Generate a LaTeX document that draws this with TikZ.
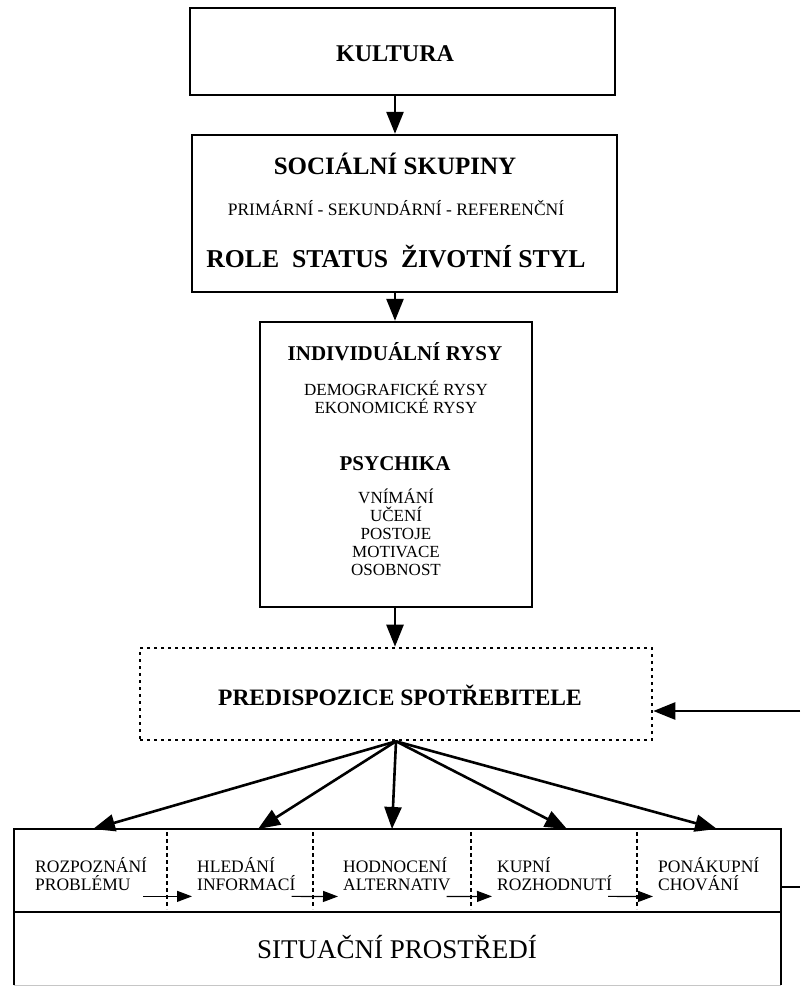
\documentclass[tikz,border=0pt]{standalone}
\usepackage{fontspec}
\setmainfont{Liberation Serif}
\usetikzlibrary{arrows.meta}

\tikzset{
  frame/.style={draw, line width=2.4pt, inner sep=0pt},
  dotframe/.style={draw, line width=2.6pt, dash pattern=on 2.6pt off 4.4pt, inner sep=0pt},
  arr/.style={line width=2.6pt, -{Triangle[length=22pt,width=17pt]}},
  flow/.style={line width=1.2pt, -{Triangle[length=15pt,width=11pt]}},
  divider/.style={line width=1.2pt, dash pattern=on 4pt off 3pt},
  head/.style={font=\bfseries\fontsize{25}{25}\selectfont, anchor=base},
  sub/.style={font=\bfseries\fontsize{21}{21}\selectfont, anchor=base},
  item/.style={font=\fontsize{17}{17}\selectfont, anchor=base},
  stepbox/.style={font=\fontsize{17.5}{18}\selectfont, align=left, anchor=base west, inner sep=0pt},
}

\begin{document}
\begin{tikzpicture}[x=1pt, y=-1pt]
	\useasboundingbox (0,0) rectangle (800,987);
	\coordinate (axis) at (395,0);

	\node[frame, minimum width=425pt, minimum height=87pt] (kultura) at (402.5,51.5) {};
	\node[frame, minimum width=425pt, minimum height=157pt] (skupiny) at (404.5,213.5) {};
	\node[frame, minimum width=272pt, minimum height=285pt] (rysy) at (396,464.5) {};
	\node[dotframe, minimum width=512pt, minimum height=92pt] (predispozice) at (396,694) {};
	\node[frame, minimum width=767pt, minimum height=83pt] (proces) at (397.5,870.5) {};
	\node[inner sep=0pt, minimum width=767pt, minimum height=73pt] (prostredi) at (397.5,948.5) {};
	\draw[line width=2.4pt] (prostredi.south west) -- (prostredi.north west) -- (prostredi.north east) -- (prostredi.south east);
	\draw[gray!45, line width=1pt] (prostredi.south west) -- (prostredi.south east);

	\node[head, font=\bfseries\fontsize{24}{24}\selectfont] (tkultura) at (395,62) {KULTURA};
	\node[head] (tskupiny) at (395,175) {SOCIÁLNÍ SKUPINY};
	\node[item, font=\fontsize{17.5}{17.5}\selectfont] (tdruhy) at (396,215) {PRIMÁRNÍ - SEKUNDÁRNÍ - REFERENČNÍ};
	\node[head, font=\bfseries\fontsize{25.7}{25.7}\selectfont] (trole) at (396,267) {ROLE\ \ STATUS\ \ ŽIVOTNÍ STYL};
	\node[sub] (trysy) at (395,360) {INDIVIDUÁLNÍ RYSY};
	\node[item] (tdemo) at (396,395) {DEMOGRAFICKÉ RYSY};
	\node[item] (tekon) at (396,413) {EKONOMICKÉ RYSY};
	\node[sub] (tpsychika) at (395,470) {PSYCHIKA};
	\foreach \w [count=\i] in {VNÍMÁNÍ,UČENÍ,POSTOJE,MOTIVACE,OSOBNOST}
		\node[item] (psy\i) at (396,485+18*\i) {\w};
	\node[head, font=\bfseries\fontsize{23.5}{23.5}\selectfont] (tpredispozice) at (400,705) {PREDISPOZICE SPOTŘEBITELE};
	\node[head, font=\fontsize{27}{27}\selectfont] (tprostredi) at (397,958) {SITUAČNÍ PROSTŘEDÍ};

	\foreach \x/\t [count=\i] in {35/ROZPOZNÁNÍ\\PROBLÉMU, 197/HLEDÁNÍ\\INFORMACÍ, 343/HODNOCENÍ\\ALTERNATIV, 497/KUPNÍ\\ROZHODNUTÍ, 658/PONÁKUPNÍ\\CHOVÁNÍ}
		\node[stepbox] (s\i) at (\x,890) {\t};
	\foreach \x in {167,313,471,637}
		\draw[divider] (\x,832) -- (\x,909);
	\foreach \i/\j in {1/2,2/3,3/4,4/5}
		\draw[flow] ([shift={(-4pt,-6pt)}]s\i.south east) -- ([shift={(-5pt,-6pt)}]s\j.south west);

	\draw[arr] (kultura.south -| axis) -- (skupiny.north -| axis);
	\draw[arr] (skupiny.south -| axis) -- (rysy.north -| axis);
	\draw[arr] (rysy.south -| axis) -- (predispozice.north -| axis);

	\foreach \x [count=\i] in {93,258,392,567,717}
		\coordinate (t\i) at (\x,829);
	\foreach \i in {1,...,5}
		\draw[arr] (predispozice.south) -- (t\i);

	\coordinate (vstup) at (800,711);
	\draw[arr] (vstup) -- (vstup -| predispozice.east);
	\coordinate (vystup) at (800,887);
	\draw[line width=2pt] (proces.east |- vystup) -- (vystup);
\end{tikzpicture}
\end{document}
